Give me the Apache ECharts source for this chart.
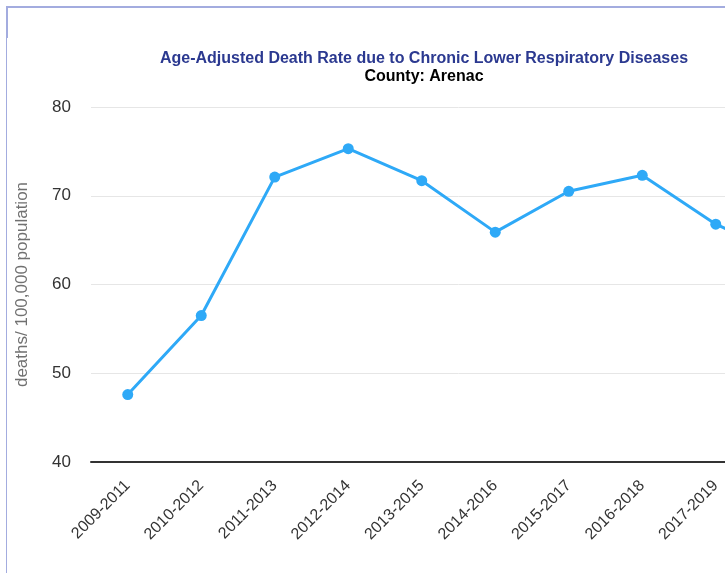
<!DOCTYPE html>
<html>
<head>
<meta charset="utf-8">
<script src="https://cdn.jsdelivr.net/npm/echarts@6/dist/echarts.min.js"></script>
<style>
  html, body { margin: 0; padding: 0; width: 725px; height: 573px; overflow: hidden; background: #fff; }
  #frame { position: absolute; left: 6px; top: 6px; width: 800px; height: 600px;
           border-top: 2px solid #a3acdf; border-left: 1px solid #a3acdf; }
  #thick { position: absolute; left: 6px; top: 6px; width: 2px; height: 32px; background: #a3acdf; }
  #chart { position: absolute; left: 0; top: 0; width: 848px; height: 573px; }
</style>
</head>
<body>
<div id="frame"></div>
<div id="thick"></div>
<div id="chart"></div>
<script>
const categories = ['2009-2011','2010-2012','2011-2013','2012-2014','2013-2015','2014-2016','2015-2017','2016-2018','2017-2019','2018-2020'];
const rates = [47.6, 56.5, 72.1, 75.3, 71.7, 65.9, 70.5, 72.3, 66.8, 63.0];
const yTicks = { min: 40, max: 80, interval: 10 };

const chart = echarts.init(document.getElementById('chart'), null, { renderer: 'canvas' });
chart.setOption({
  animation: false,
  title: {
    text: 'Age-Adjusted Death Rate due to Chronic Lower Respiratory Diseases',
    subtext: 'County: Arenac',
    left: 'center',
    top: 46,
    itemGap: 2,
    textStyle: { fontFamily: 'Liberation Sans, Arial, sans-serif', fontSize: 16, fontWeight: 'bold', color: '#2b3990' },
    subtextStyle: { fontFamily: 'Liberation Sans, Arial, sans-serif', fontSize: 16, fontWeight: 'bold', color: '#000' }
  },
  grid: { left: 91, right: 22, top: 107, bottom: 111, containLabel: false },
  xAxis: {
    type: 'category',
    data: categories,
    boundaryGap: true,
    axisLine: { show: true, lineStyle: { color: '#333', width: 2 } },
    axisTick: { show: false },
    axisLabel: { rotate: 45, interval: 0, margin: 21, color: '#333', fontSize: 16, fontFamily: 'Liberation Sans, Arial, sans-serif' }
  },
  yAxis: {
    type: 'value',
    min: yTicks.min, max: yTicks.max, interval: yTicks.interval,
    name: 'deaths/ 100,000 population',
    nameLocation: 'middle',
    nameGap: 60,
    nameTextStyle: { color: '#707070', fontSize: 17, fontFamily: 'Liberation Sans, Arial, sans-serif' },
    axisLine: { show: false },
    axisTick: { show: false },
    axisLabel: { color: '#333', fontSize: 17, margin: 20, fontFamily: 'Liberation Sans, Arial, sans-serif' },
    splitLine: { lineStyle: { color: '#e6e6e6', width: 1 } }
  },
  series: [{
    type: 'line',
    data: rates,
    symbol: 'circle',
    symbolSize: 11,
    lineStyle: { color: '#2ea9f7', width: 3 },
    itemStyle: { color: '#2ea9f7' }
  }]
});
</script>
</body>
</html>
